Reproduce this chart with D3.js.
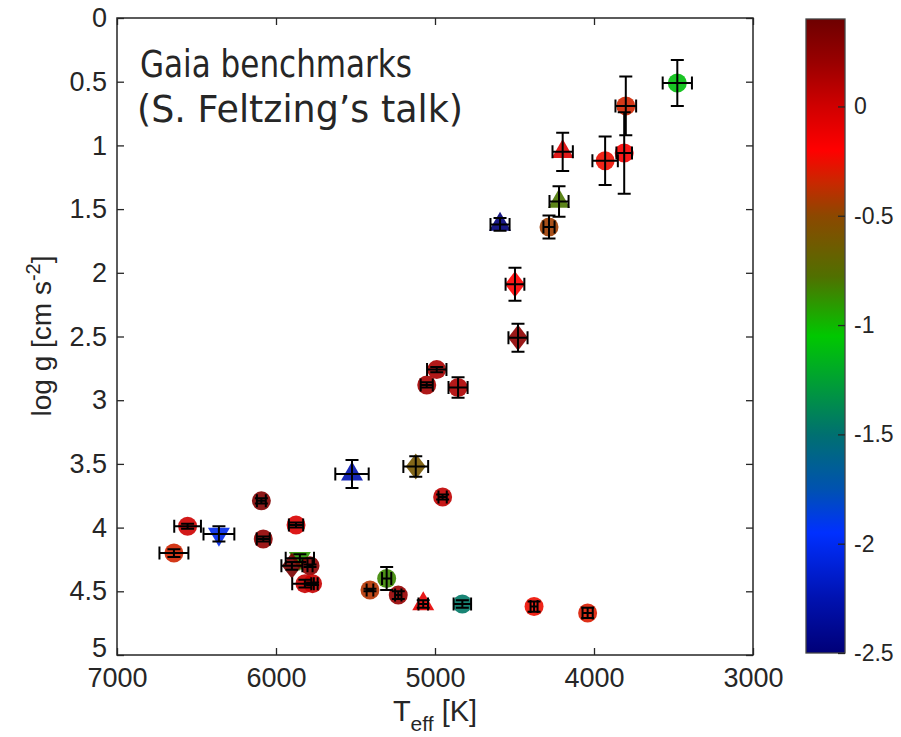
<!DOCTYPE html>
<html>
<head>
<meta charset="utf-8">
<title>Gaia benchmarks</title>
<script src="https://d3js.org/d3.v7.min.js"></script>
<style>
    body { margin: 0; background: #fff; }
    text { font-family: "Liberation Sans", Arial, sans-serif; fill: #262626; }
    .tick line { stroke: #262626; stroke-width: 1.3; }
</style>
</head>
<body>
<svg width="901" height="737"></svg>
<script>

// estrellas (orden de dibujo)
const stars = ["psi Phe", "alf Cet", "gam Sge", "alf Tau", "beta Ara", "HD 220009", "Arcturus",
    "HD 122563", "HD 107328", "mu Leo", "eps Vir", "ksi Hya", "beta Gem", "HD 140283", "eps For",
    "del Eri", "eta Boo", "Procyon", "HD 84937", "beta Hyi", "beta Vir", "HD 49933", "HD 22879",
    "mu Ara", "alf Cen A", "18 Sco", "Sun", "tau Cet", "mu Cas", "alf Cen B", "eps Eri",
    "Gmb 1830", "61 Cyg A", "61 Cyg B"];
const teff    = [3476, 3800, 3810, 3930, 4197, 4220, 4283, 4591, 4497, 4478, 4989, 5052, 4855, 5522, 5121,
    4952, 6092, 6556, 6359, 5874, 6080, 6642, 5850, 5900, 5786, 5818, 5770, 5409, 5304, 5231, 5074,
    4828, 4377, 4040];
const teffErr = [92, 65, 49, 80, 64, 60, 35, 60, 59, 60, 61, 38, 60, 105, 78,
    26, 28, 84, 97, 45, 41, 91, 89, 66, 16, 80, 8, 21, 29, 20, 30,
    55, 22, 32];
const logg    = [0.51, 0.69, 1.06, 1.12, 1.05, 1.44, 1.64, 1.62, 2.09, 2.51, 2.76, 2.88, 2.90, 3.58, 3.52,
    3.76, 3.79, 3.99, 4.05, 3.98, 4.09, 4.20, 4.24, 4.30, 4.30, 4.44, 4.44, 4.49, 4.40, 4.53, 4.60,
    4.60, 4.62, 4.67];
const loggErr = [0.18, 0.23, 0.32, 0.19, 0.15, 0.12, 0.09, 0.05, 0.13, 0.11, 0.02, 0.02, 0.08, 0.11, 0.08,
    0.02, 0.02, 0.02, 0.06, 0.02, 0.02, 0.03, 0.03, 0.03, 0.01, 0.03, 0.01, 0.01, 0.09, 0.03, 0.03,
    0.03, 0.04, 0.04];
const feh     = [-1.1, -0.33, -0.17, -0.25, -0.05, -0.8, -0.45, -2.64, -0.2, 0.25, 0.15, 0.16, 0.13, -2.25, -0.60,
    0.06, 0.32, 0.01, -2.03, -0.04, 0.24, -0.33, -0.9, 0.35, 0.26, 0.03, 0.03, -0.4, -0.85, 0.22, -0.09,
    -1.46, -0.25, -0.3];
const marker  = ["o", "o", "o", "o", "^", "^", "o", "^", "d", "d", "o", "o", "o", "^", "d",
    "o", "o", "o", "v", "o", "o", "o", "v", "d", "o", "o", "o", "o", "o", "o", "^",
    "o", "o", "o"];

// ticks
const xTicks = [7000, 6000, 5000, 4000, 3000];
const yTicks = [0, 0.5, 1, 1.5, 2, 2.5, 3, 3.5, 4, 4.5, 5];
const cTicks = [0, -0.5, -1, -1.5, -2, -2.5];

// mapa de colores (valor de [Fe/H] -> color)
const cmapValues = [-2.5, -2.25, -1.95, -1.75, -1.5, -1.05, -0.78, -0.5, -0.35, -0.2, 0, 0.2, 0.4];
const cmapColors = ["#000078", "#0012b0", "#0030ff", "#0052b0", "#007070", "#00c800", "#507000",
    "#8c4800", "#c82800", "#ff0000", "#d00000", "#9a0000", "#6e0000"];
const cLimits = [-2.5, 0.40];

const svg = d3.select("svg");
const pLeft = 117, pRight = 753, pTop = 18, pBottom = 655;

let x = d3.scaleLinear().domain([7000, 3000]).range([pLeft, pRight]);
let y = d3.scaleLinear().domain([0, 5]).range([pTop, pBottom]);
let color = d3.scaleLinear().domain(cmapValues).range(cmapColors).clamp(true);

// ejes con ticks hacia adentro
svg.append("g").attr("transform", `translate(0,${pBottom})`)
    .call(d3.axisBottom(x).tickValues(xTicks).tickFormat(d => String(d)).tickSize(-7).tickPadding(13))
    .call(g => g.select(".domain").remove())
    .selectAll("text").style("font-size", "27px");
svg.append("g").attr("transform", `translate(0,${pTop})`)
    .call(d3.axisTop(x).tickValues(xTicks).tickFormat("").tickSize(-7))
    .call(g => g.select(".domain").remove());
svg.append("g").attr("transform", `translate(${pLeft},0)`)
    .call(d3.axisLeft(y).tickValues(yTicks).tickFormat(d => String(d)).tickSize(-7).tickPadding(10))
    .call(g => g.select(".domain").remove())
    .selectAll("text").style("font-size", "27px").attr("dy", d => d === 5 ? "0.05em" : "0.32em");
svg.append("g").attr("transform", `translate(${pRight},0)`)
    .call(d3.axisRight(y).tickValues(yTicks).tickFormat("").tickSize(-7))
    .call(g => g.select(".domain").remove());

svg.selectAll(".tick text").attr("fill", "#262626");

svg.append("rect")
    .attr("x", pLeft).attr("y", pTop)
    .attr("width", pRight - pLeft).attr("height", pBottom - pTop)
    .attr("fill", "none").attr("stroke", "#262626").attr("stroke-width", 1.5);

// marcadores
const idx = d3.range(stars.length);
function shape(m) {
    if (m === "^") return "M0,-12.7L11,6.3L-11,6.3Z";
    if (m === "v") return "M0,12.7L11,-6.3L-11,-6.3Z";
    if (m === "d") return "M0,-13L10,0L0,13L-10,0Z";
    return d3.symbol(d3.symbolCircle, Math.PI * 9.5 * 9.5)();
}
svg.append("g").selectAll("path")
    .data(idx).join("path")
    .attr("transform", i => `translate(${x(teff[i])},${y(logg[i])})`)
    .attr("d", i => shape(marker[i]))
    .attr("fill", i => color(feh[i]))
    .attr("fill-opacity", 0.9);

// barras de error
const cap = 6.5;
let eb = svg.append("g").attr("stroke", "#000").attr("stroke-width", 2).attr("fill", "none");
idx.forEach(function (i) {
    let cx = x(teff[i]), cy = y(logg[i]);
    let y0 = y(logg[i] - loggErr[i]), y1 = y(logg[i] + loggErr[i]);
    let x0 = x(teff[i] + teffErr[i]), x1 = x(teff[i] - teffErr[i]);
    eb.append("path").attr("d",
        `M${cx},${y0}V${y1}M${cx - cap},${y0}H${cx + cap}M${cx - cap},${y1}H${cx + cap}` +
        `M${x0},${cy}H${x1}M${x0},${cy - cap}V${cy + cap}M${x1},${cy - cap}V${cy + cap}`);
});

// etiquetas de ejes
svg.append("text")
    .attr("x", 435).attr("y", 721)
    .attr("text-anchor", "middle")
    .style("font-size", "29px")
    .html('T<tspan dy="10" style="font-size:21px">eff</tspan><tspan dy="-10"> [K]</tspan>');

svg.append("text")
    .attr("transform", "translate(51,336) rotate(-90)")
    .attr("text-anchor", "middle")
    .style("font-size", "28px")
    .html('log g [cm s<tspan dy="-11" style="font-size:20px">-2</tspan><tspan dy="11">]</tspan>');

// texto
svg.append("text")
    .attr("x", 140).attr("y", 77)
    .attr("textLength", 272).attr("lengthAdjust", "spacingAndGlyphs")
    .style("font-family", "'DejaVu Sans', sans-serif").style("font-size", "37px").attr("fill", "#000")
    .text("Gaia benchmarks");
svg.append("text")
    .attr("x", 137).attr("y", 122)
    .attr("textLength", 326).attr("lengthAdjust", "spacingAndGlyphs")
    .style("font-family", "'DejaVu Sans', sans-serif").style("font-size", "37px").attr("fill", "#000")
    .text("(S. Feltzing\u2019s talk)");

// barra de colores
const cbLeft = 806, cbRight = 845, cbTop = 19, cbBottom = 653;
let cScale = d3.scaleLinear().domain(cLimits).range([cbBottom, cbTop]);

let grad = svg.append("defs").append("linearGradient")
    .attr("id", "cmap").attr("x1", 0).attr("y1", 1).attr("x2", 0).attr("y2", 0);
cmapValues.forEach(function (v, k) {
    grad.append("stop")
        .attr("offset", (v - cLimits[0]) / (cLimits[1] - cLimits[0]))
        .attr("stop-color", cmapColors[k]);
});

svg.append("rect")
    .attr("x", cbLeft).attr("y", cbTop)
    .attr("width", cbRight - cbLeft).attr("height", cbBottom - cbTop)
    .attr("fill", "url(#cmap)").attr("stroke", "#444").attr("stroke-width", 1.3);

svg.append("g").attr("transform", `translate(${cbRight},0)`)
    .call(d3.axisRight(cScale).tickValues(cTicks).tickFormat(d => String(d)).tickSize(-7).tickPadding(9))
    .call(g => g.select(".domain").remove())
    .selectAll("text").style("font-size", "23px").attr("fill", "#262626");

</script>
</body>
</html>
